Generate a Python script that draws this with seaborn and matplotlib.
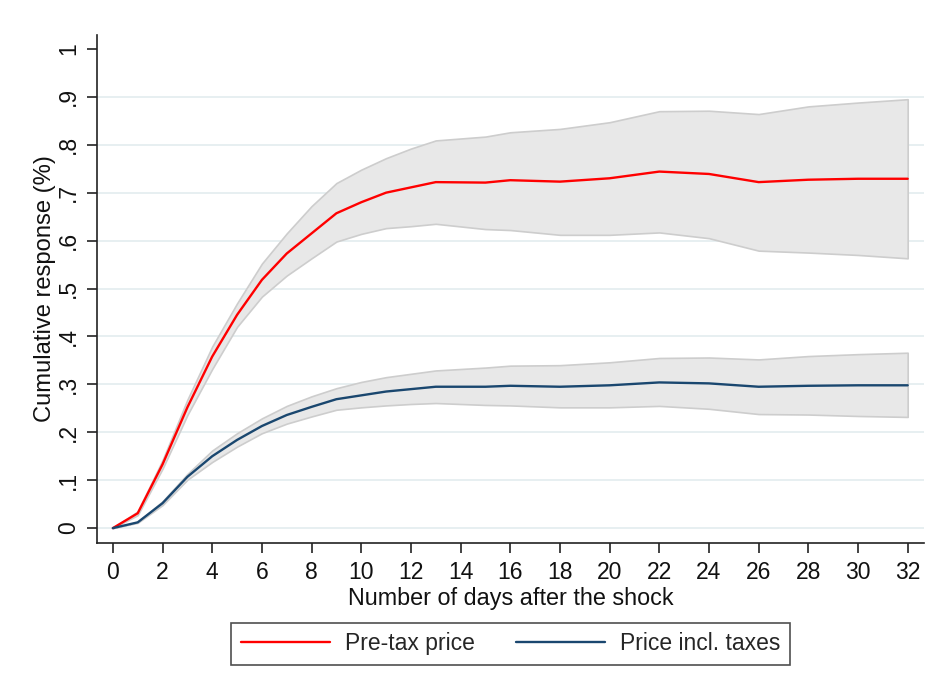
import numpy as np
import pandas as pd
import matplotlib
matplotlib.use("Agg")
import matplotlib.pyplot as plt
import seaborn as sns
from matplotlib.lines import Line2D

days = [0, 1, 2, 3, 4, 5, 6, 7, 8, 9, 10, 11, 12, 13, 15, 16, 18, 20, 22, 24, 26, 28, 30, 32]

pretax_mean = [0.0, 0.031, 0.133, 0.252, 0.358, 0.445, 0.518, 0.573, 0.615, 0.657, 0.680, 0.700,
               0.711, 0.722, 0.721, 0.726, 0.723, 0.730, 0.744, 0.739, 0.722, 0.727, 0.729, 0.729]
pretax_upper = [0.0, 0.035, 0.142, 0.268, 0.379, 0.469, 0.552, 0.615, 0.672, 0.720, 0.748, 0.772,
                0.792, 0.809, 0.817, 0.826, 0.833, 0.847, 0.870, 0.871, 0.864, 0.880, 0.888, 0.895]
pretax_lower = [0.0, 0.027, 0.124, 0.236, 0.332, 0.420, 0.483, 0.527, 0.563, 0.598, 0.614, 0.626,
                0.630, 0.635, 0.624, 0.622, 0.612, 0.612, 0.617, 0.605, 0.579, 0.575, 0.570, 0.563]

incl_mean = [0.0, 0.012, 0.052, 0.107, 0.150, 0.184, 0.213, 0.236, 0.253, 0.269, 0.277, 0.285,
             0.290, 0.295, 0.295, 0.297, 0.295, 0.298, 0.304, 0.302, 0.295, 0.297, 0.298, 0.298]
incl_upper = [0.0, 0.013, 0.056, 0.113, 0.162, 0.198, 0.229, 0.255, 0.275, 0.292, 0.305, 0.315,
              0.322, 0.329, 0.335, 0.339, 0.340, 0.346, 0.355, 0.356, 0.352, 0.359, 0.363, 0.366]
incl_lower = [0.0, 0.011, 0.048, 0.101, 0.138, 0.170, 0.198, 0.218, 0.233, 0.247, 0.252, 0.256,
              0.259, 0.261, 0.257, 0.256, 0.252, 0.252, 0.255, 0.249, 0.238, 0.237, 0.234, 0.232]

series_names = ["Pre-tax price", "Price incl. taxes"]
x_ticks = list(range(0, 33, 2))
y_ticks = [0.0, 0.1, 0.2, 0.3, 0.4, 0.5, 0.6, 0.7, 0.8, 0.9, 1.0]
y_tick_labels = ["0", ".1", ".2", ".3", ".4", ".5", ".6", ".7", ".8", ".9", "1"]

sns.set_theme(style="white")
plt.rcParams["font.family"] = ["Liberation Sans", "DejaVu Sans"]

df = pd.DataFrame({
    "day": days * 2,
    "response": pretax_mean + incl_mean,
    "series": [series_names[0]] * len(days) + [series_names[1]] * len(days),
})

colors = {series_names[0]: "#ff0000", series_names[1]: "#1a476f"}

fig = plt.figure(figsize=(9.36, 6.93), dpi=100)
ax = fig.add_axes([0.1036, 0.2165, 0.8834, 0.733])

band_face = "#e8e8e8"
band_edge = "#cdcdcd"
ax.fill_between(days, pretax_lower, pretax_upper, facecolor=band_face, edgecolor=band_edge,
                linewidth=1.2, zorder=2)
ax.fill_between(days, incl_lower, incl_upper, facecolor=band_face, edgecolor=band_edge,
                linewidth=1.2, zorder=2)

sns.lineplot(data=df, x="day", y="response", hue="series", palette=colors,
             linewidth=1.7, ax=ax, zorder=3, legend=False)

ax.set_xlim(-0.64, 32.65)
ax.set_ylim(-0.031, 1.029)
ax.set_xticks(x_ticks)
ax.set_xticklabels([str(t) for t in x_ticks], fontsize=16.5)
ax.set_yticks(y_ticks)
ax.set_yticklabels(y_tick_labels, fontsize=16.5, rotation=90, va="center")

ax.yaxis.grid(True, color="#e7eff1", linewidth=1.4, zorder=0)
ax.get_ygridlines()[-1].set_visible(False)
ax.set_axisbelow(True)

for s in ["top", "right"]:
    ax.spines[s].set_visible(False)
for s in ["left", "bottom"]:
    ax.spines[s].set_color("#222222")
    ax.spines[s].set_linewidth(1.2)

ax.tick_params(axis="both", which="major", direction="out", length=7, width=1.2,
               color="#222222", labelcolor="#111111", bottom=True, left=True)
ax.tick_params(axis="x", pad=6)
ax.tick_params(axis="y", pad=5)

ax.set_xlabel("Number of days after the shock", fontsize=16.8, color="#111111", labelpad=2)
ax.set_ylabel("Cumulative response (%)", fontsize=17.1, color="#111111", labelpad=1)

handles = [Line2D([0], [0], color=colors[series_names[0]], lw=1.7),
           Line2D([0], [0], color=colors[series_names[1]], lw=1.7)]
leg = fig.legend(handles, series_names, loc="center", bbox_to_anchor=(0.5455, 0.071),
                 ncol=2, fontsize=16.5, frameon=True, fancybox=False, handlelength=3.9,
                 columnspacing=1.8, handletextpad=0.65, borderpad=0.42, borderaxespad=0)
leg.get_frame().set_edgecolor("#222222")
leg.get_frame().set_linewidth(1.2)

fig.savefig("out.png", dpi=100, facecolor="white")
